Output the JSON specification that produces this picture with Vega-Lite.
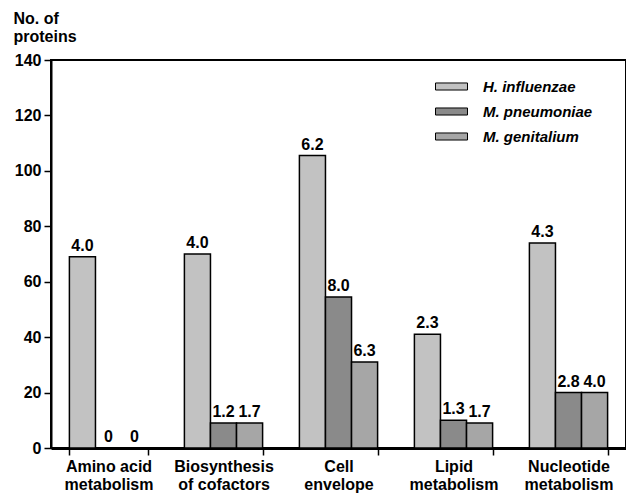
{
  "$schema": "https://vega.github.io/schema/vega-lite/v6.json",
  "width": 575,
  "height": 388,
  "autosize": {"type": "none"},
  "padding": {"left": 51, "top": 60, "right": 0, "bottom": 46},
  "background": "white",
  "config": {
    "font": "Liberation Sans",
    "view": {"stroke": "black", "strokeWidth": 2},
    "axis": {"labelFont": "Liberation Sans", "labelFontWeight": "bold", "labelColor": "black", "domainColor": "black", "tickColor": "black", "titleColor": "black"}
  },
  "data": {
    "values": [
      {"category": "Amino acid\nmetabolism", "species": "H. influenzae", "value": 69, "pct": "4.0"},
      {"category": "Amino acid\nmetabolism", "species": "M. pneumoniae", "value": 0, "pct": "0"},
      {"category": "Amino acid\nmetabolism", "species": "M. genitalium", "value": 0, "pct": "0"},
      {"category": "Biosynthesis\nof cofactors", "species": "H. influenzae", "value": 70, "pct": "4.0"},
      {"category": "Biosynthesis\nof cofactors", "species": "M. pneumoniae", "value": 9, "pct": "1.2"},
      {"category": "Biosynthesis\nof cofactors", "species": "M. genitalium", "value": 9, "pct": "1.7"},
      {"category": "Cell\nenvelope", "species": "H. influenzae", "value": 105.5, "pct": "6.2"},
      {"category": "Cell\nenvelope", "species": "M. pneumoniae", "value": 54.5, "pct": "8.0"},
      {"category": "Cell\nenvelope", "species": "M. genitalium", "value": 31, "pct": "6.3"},
      {"category": "Lipid\nmetabolism", "species": "H. influenzae", "value": 41, "pct": "2.3"},
      {"category": "Lipid\nmetabolism", "species": "M. pneumoniae", "value": 10, "pct": "1.3"},
      {"category": "Lipid\nmetabolism", "species": "M. genitalium", "value": 9, "pct": "1.7"},
      {"category": "Nucleotide\nmetabolism", "species": "H. influenzae", "value": 74, "pct": "4.3"},
      {"category": "Nucleotide\nmetabolism", "species": "M. pneumoniae", "value": 20, "pct": "2.8"},
      {"category": "Nucleotide\nmetabolism", "species": "M. genitalium", "value": 20, "pct": "4.0"}
    ]
  },
  "encoding": {
    "x": {
      "field": "category", "type": "nominal", "sort": null,
      "scale": {"paddingInner": 0.32, "paddingOuter": 0.16},
      "axis": {
        "title": null, "labelAngle": 0, "tickBand": "extent",
        "labelExpr": "split(datum.label, '\\n')",
        "labelFontSize": 16, "labelLineHeight": 18, "labelPadding": 3,
        "tickSize": 7, "tickWidth": 1.5, "domainWidth": 3
      }
    },
    "xOffset": {"field": "species", "type": "nominal", "sort": ["H. influenzae", "M. pneumoniae", "M. genitalium"], "scale": {"paddingInner": 0}},
    "y": {
      "field": "value", "type": "quantitative",
      "scale": {"domain": [0, 140], "nice": false},
      "axis": {
        "values": [0, 20, 40, 60, 80, 100, 120, 140], "grid": false,
        "labelFontSize": 16, "labelPadding": 3, "tickSize": 7, "tickWidth": 1.5, "domainWidth": 2,
        "title": ["No. of", "proteins"], "titleAngle": 0, "titleAlign": "left", "titleBaseline": "top",
        "titleX": -38, "titleY": -50, "titleFontSize": 16, "titleFontWeight": "bold", "titleLineHeight": 18, "titleFont": "Liberation Sans"
      }
    }
  },
  "layer": [
    {
      "mark": {"type": "bar", "stroke": "black", "strokeWidth": 1.5},
      "encoding": {
        "color": {
          "field": "species", "type": "nominal",
          "scale": {"domain": ["H. influenzae", "M. pneumoniae", "M. genitalium"], "range": ["#c2c2c2", "#8a8a8a", "#a6a6a6"]},
          "legend": {
            "title": null, "orient": "none", "legendX": 384, "legendY": 10,
            "symbolType": "M-1,-0.22H1V0.22H-1Z", "symbolSize": 1024, "symbolStrokeColor": "black", "symbolStrokeWidth": 1,
            "labelFont": "Liberation Sans", "labelFontSize": 15, "labelFontWeight": "bold", "labelFontStyle": "italic", "labelColor": "black",
            "labelOffset": 15, "rowPadding": -5
          }
        }
      }
    },
    {
      "mark": {"type": "text", "baseline": "alphabetic", "dy": -6, "fontSize": 16, "fontWeight": "bold", "font": "Liberation Sans", "color": "black"},
      "encoding": {"text": {"field": "pct"}}
    }
  ]
}
